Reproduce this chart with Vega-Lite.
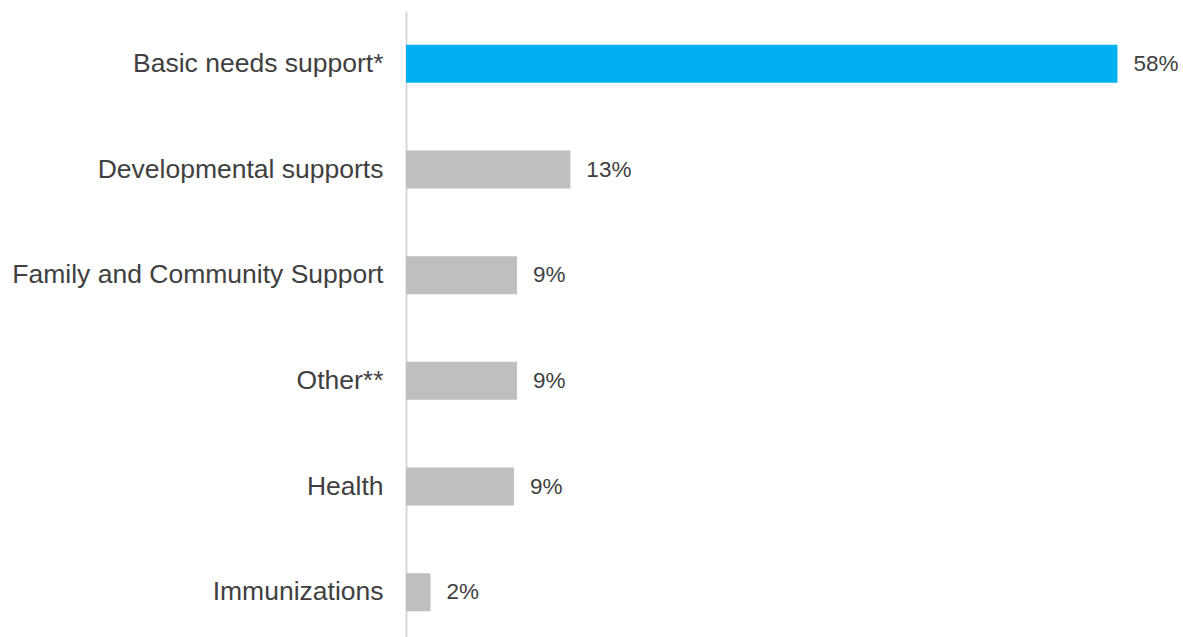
{
  "$schema": "https://vega.github.io/schema/vega-lite/v6.json",
  "autosize": "none",
  "width": 736,
  "height": 634,
  "padding": {"left": 406, "top": 11, "right": 41, "bottom": 0},
  "background": "white",
  "data": {
    "values": [
      {"category": "Basic needs support*", "value": 0.58, "highlight": "yes"},
      {"category": "Developmental supports", "value": 0.134, "highlight": "no"},
      {"category": "Family and Community Support", "value": 0.0905, "highlight": "no"},
      {"category": "Other**", "value": 0.0905, "highlight": "no"},
      {"category": "Health", "value": 0.088, "highlight": "no"},
      {"category": "Immunizations", "value": 0.02, "highlight": "no"}
    ]
  },
  "encoding": {
    "y": {
      "field": "category",
      "type": "nominal",
      "sort": null,
      "scale": {"paddingInner": 0.64, "paddingOuter": 0.32},
      "axis": {
        "title": null,
        "ticks": false,
        "labelFont": "Liberation Sans",
        "labelFontSize": 26.5,
        "labelColor": "#404040",
        "labelPadding": 23,
        "domainColor": "#D9D9D9",
        "domainWidth": 2,
        "labelLimit": 600
      }
    },
    "x": {
      "field": "value",
      "type": "quantitative",
      "scale": {"domain": [0, 0.6]},
      "axis": null
    }
  },
  "layer": [
    {
      "mark": {"type": "bar"},
      "encoding": {
        "color": {
          "field": "highlight",
          "type": "nominal",
          "scale": {"domain": ["yes", "no"], "range": ["#00B0F0", "#BFBFBF"]},
          "legend": null
        }
      }
    },
    {
      "mark": {"type": "text", "align": "left", "dx": 16, "font": "Liberation Sans", "fontSize": 22.5, "color": "#404040"},
      "encoding": {
        "text": {"field": "value", "type": "quantitative", "format": ".0%"}
      }
    }
  ],
  "config": {"view": {"stroke": null}}
}
